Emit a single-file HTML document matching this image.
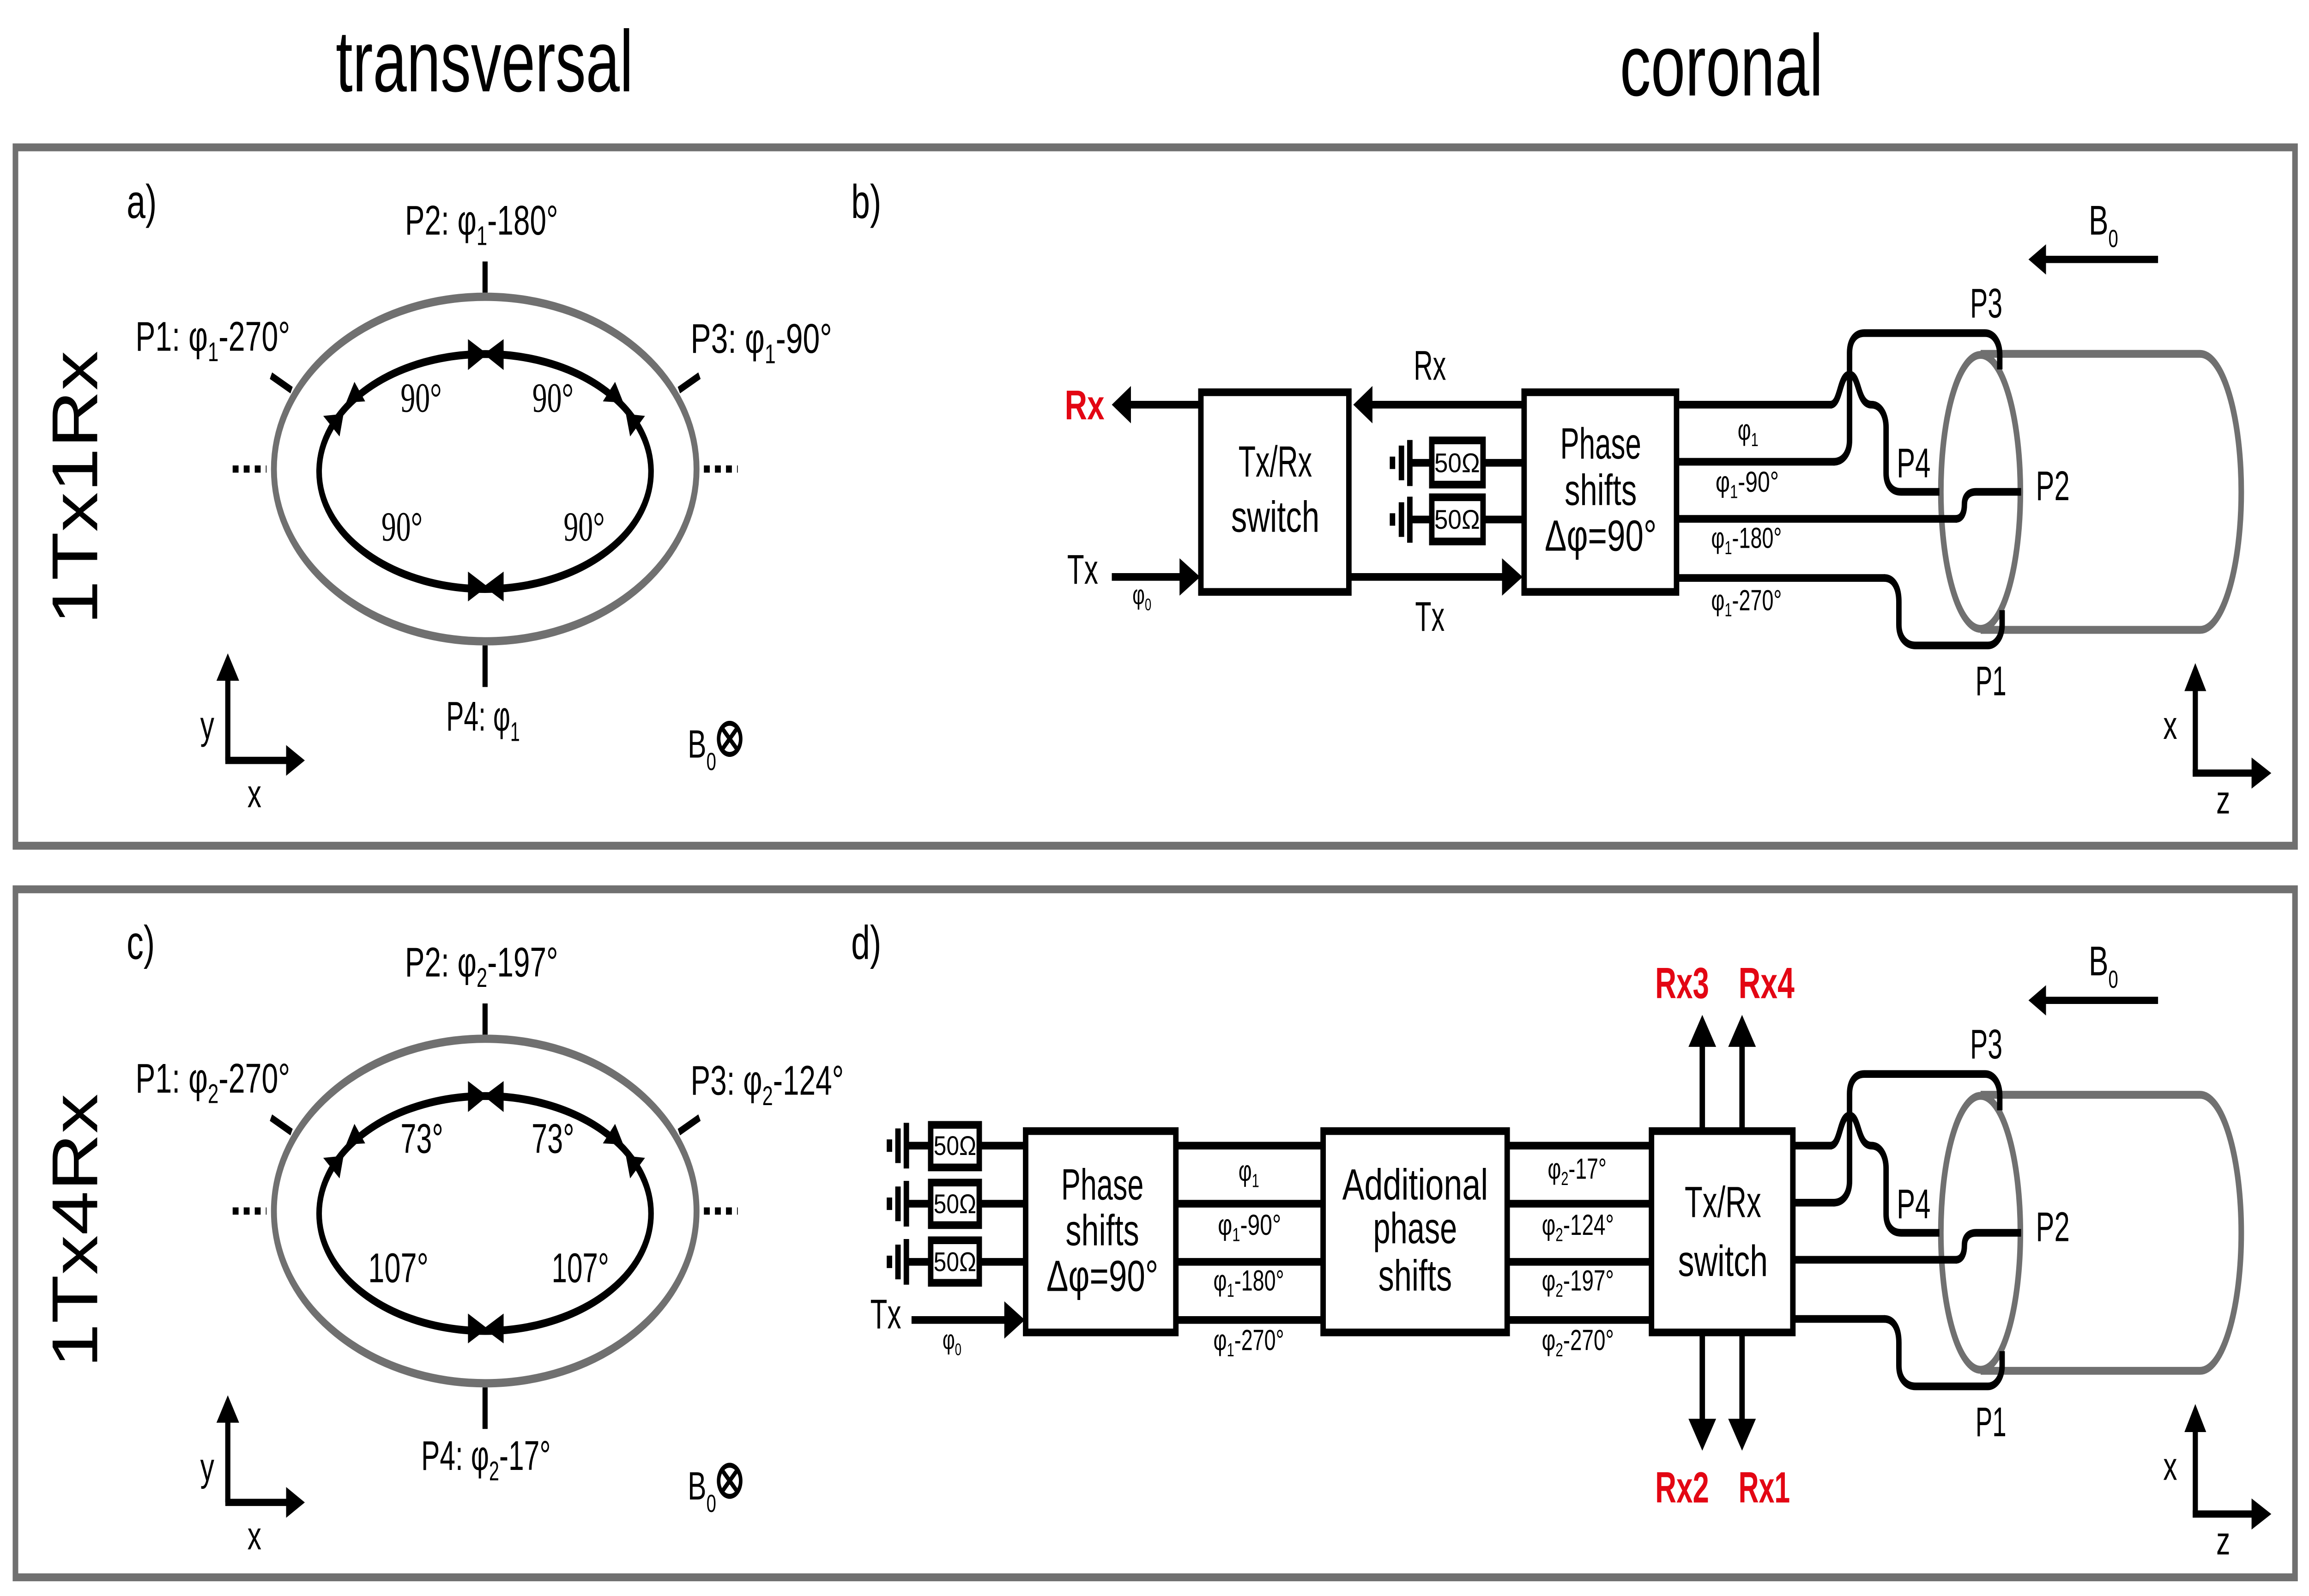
<!DOCTYPE html>
<html><head><meta charset="utf-8"><style>
html,body{margin:0;padding:0;background:#fff;width:100%;height:100%;overflow:hidden;}
svg{display:block;position:absolute;left:0;top:0;width:100vw;height:100vh;}
text{font-family:"Liberation Sans",sans-serif;fill:#000;}
.s{font-family:"Liberation Serif",serif;}
.red{fill:#e30613;font-weight:bold;}
</style></head><body>
<svg xmlns="http://www.w3.org/2000/svg" viewBox="0 0 1568 769" preserveAspectRatio="none">
<rect width="1568" height="769" fill="#fff"/>
<text x="228" y="44" font-size="42" textLength="202" lengthAdjust="spacingAndGlyphs">transversal</text>
<text x="1100" y="46" font-size="42" textLength="138" lengthAdjust="spacingAndGlyphs">coronal</text>
<rect x="10.5" y="71" width="1548" height="336.5" fill="none" stroke="#707070" stroke-width="3.8"/>
<rect x="10.5" y="428.5" width="1548" height="331.5" fill="none" stroke="#707070" stroke-width="3.8"/>
<text transform="translate(66,235) rotate(-90)" text-anchor="middle" font-size="44" textLength="132" lengthAdjust="spacingAndGlyphs">1Tx1Rx</text>
<text transform="translate(66,593) rotate(-90)" text-anchor="middle" font-size="44" textLength="132" lengthAdjust="spacingAndGlyphs">1Tx4Rx</text>

<defs>
<g id="trans">
  <ellipse cx="329.5" cy="226" rx="143.5" ry="83" fill="none" stroke="#707070" stroke-width="4"/>
  <ellipse cx="329.4" cy="227.2" rx="112.7" ry="56.6" fill="none" stroke="#000" stroke-width="3.8"/>
  <line x1="329.4" y1="126" x2="329.4" y2="141" stroke="#000" stroke-width="3.5"/>
  <line x1="329.4" y1="311" x2="329.4" y2="331" stroke="#000" stroke-width="3.5"/>
  <line x1="184" y1="181" x2="198" y2="188" stroke="#000" stroke-width="3.5"/>
  <line x1="461" y1="188" x2="475" y2="181" stroke="#000" stroke-width="3.5"/>
  <line x1="158" y1="226" x2="181" y2="226" stroke="#000" stroke-width="3.5" stroke-dasharray="4,3.5"/>
  <line x1="478" y1="226" x2="501" y2="226" stroke="#000" stroke-width="3.5" stroke-dasharray="4,3.5"/>
  <polygon points="317.8,163.4 331,170.6 317.8,178.3"/>
  <polygon points="342,163.4 328.5,170.6 342,178.3"/>
  <polygon points="317.8,275.4 331,282.6 317.8,289.8"/>
  <polygon points="342,275.4 328.5,282.6 342,289.8"/>
  <polygon points="240.7,184 235,194 248,193.4"/>
  <polygon points="219.5,200.4 230.6,210.3 233.3,199.4"/>
  <polygon points="417.7,184 409.4,193.4 423.3,194"/>
  <polygon points="438,200.4 427.9,210.3 425,199.4"/>
  <line x1="154.7" y1="366.4" x2="154.7" y2="326" stroke="#000" stroke-width="3.5"/>
  <polygon points="154.7,314.8 147,328 162.4,328"/>
  <line x1="153" y1="366.4" x2="196" y2="366.4" stroke="#000" stroke-width="3.5"/>
  <polygon points="207,366.4 194.3,359 194.3,373.8"/>
  <text x="136" y="356" font-size="19">y</text>
  <text x="168" y="389" font-size="19">x</text>
  <text x="467" y="365" font-size="19">B<tspan dy="6" font-size="12">0</tspan></text>
  <circle cx="495.5" cy="356" r="7.5" fill="none" stroke="#000" stroke-width="2.4"/>
  <line x1="490.2" y1="350.7" x2="500.8" y2="361.3" stroke="#000" stroke-width="2.4"/>
  <line x1="500.8" y1="350.7" x2="490.2" y2="361.3" stroke="#000" stroke-width="2.4"/>
</g>
</defs>
<use href="#trans"/>
<use href="#trans" transform="translate(0,357.5)"/>

<text x="86" y="105" font-size="23">a)</text>
<text x="275" y="113" font-size="20" textLength="104" lengthAdjust="spacingAndGlyphs">P2: φ<tspan dy="5" font-size="13">1</tspan><tspan dy="-5">-180°</tspan></text>
<text x="92" y="169" font-size="20" textLength="105" lengthAdjust="spacingAndGlyphs">P1: φ<tspan dy="5" font-size="13">1</tspan><tspan dy="-5">-270°</tspan></text>
<text x="469" y="170" font-size="20" textLength="96" lengthAdjust="spacingAndGlyphs">P3: φ<tspan dy="5" font-size="13">1</tspan><tspan dy="-5">-90°</tspan></text>
<text x="303" y="352" font-size="20" textLength="50" lengthAdjust="spacingAndGlyphs">P4: φ<tspan dy="5" font-size="13">1</tspan></text>
<text class="s" x="272" y="198.4" font-size="20">90°</text>
<text class="s" x="361.5" y="198.4" font-size="20">90°</text>
<text class="s" x="259" y="260.5" font-size="20">90°</text>
<text class="s" x="382.7" y="260.5" font-size="20">90°</text>

<text x="86" y="462" font-size="23">c)</text>
<text x="275" y="470.5" font-size="20" textLength="104" lengthAdjust="spacingAndGlyphs">P2: φ<tspan dy="5" font-size="13">2</tspan><tspan dy="-5">-197°</tspan></text>
<text x="92" y="526.5" font-size="20" textLength="105" lengthAdjust="spacingAndGlyphs">P1: φ<tspan dy="5" font-size="13">2</tspan><tspan dy="-5">-270°</tspan></text>
<text x="469" y="527.5" font-size="20" textLength="104" lengthAdjust="spacingAndGlyphs">P3: φ<tspan dy="5" font-size="13">2</tspan><tspan dy="-5">-124°</tspan></text>
<text x="286" y="708.3" font-size="20" textLength="88" lengthAdjust="spacingAndGlyphs">P4: φ<tspan dy="5" font-size="13">2</tspan><tspan dy="-5">-17°</tspan></text>
<text x="272" y="555.5" font-size="20" textLength="29" lengthAdjust="spacingAndGlyphs">73°</text>
<text x="361" y="555.5" font-size="20" textLength="29" lengthAdjust="spacingAndGlyphs">73°</text>
<text x="250" y="617.8" font-size="20" textLength="41" lengthAdjust="spacingAndGlyphs">107°</text>
<text x="374.6" y="617.8" font-size="20" textLength="39" lengthAdjust="spacingAndGlyphs">107°</text>

<defs>
<g id="coil">
  <ellipse cx="1345" cy="237" rx="27" ry="66" fill="none" stroke="#707070" stroke-width="3.8"/>
  <path d="M1345,170.5 H1494 A28,66.5 0 0 1 1494,303.5 H1345" fill="none" stroke="#707070" stroke-width="3.8"/>
  <g fill="none" stroke="#000" stroke-width="3.7" stroke-linejoin="round" stroke-linecap="butt">
    <path d="M1243,195 C1250,195 1249,180.5 1256,180.5 C1263,180.5 1261,195 1271,195 C1277,195 1280.8,200 1280.8,206 V228 C1280.8,233 1284,237 1291,237 H1317"/>
    <path d="M1245,222.5 C1252,222.5 1256,218 1256,212 V170 C1256,164 1260,160.5 1266,160.5 H1348 C1354,160.5 1358,165 1358,171 V178"/>
    <path d="M1328,250 C1333,250 1334,246 1334,243 C1334,239 1337,237 1342,237 H1372.5"/>
    <path d="M1279.5,278.5 C1285,278.5 1289.5,282 1289.5,290 V301 C1289.5,307 1294,311 1301,311 H1350 C1355,311 1359.6,307 1359.6,301 V294"/>
  </g>
  <text x="1337.8" y="153" font-size="20" textLength="22" lengthAdjust="spacingAndGlyphs">P3</text>
  <text x="1288" y="230" font-size="20" textLength="23" lengthAdjust="spacingAndGlyphs">P4</text>
  <text x="1382.5" y="241" font-size="20" textLength="23" lengthAdjust="spacingAndGlyphs">P2</text>
  <text x="1341.5" y="335" font-size="20" textLength="21" lengthAdjust="spacingAndGlyphs">P1</text>
  <line x1="1388" y1="125" x2="1465.5" y2="125" stroke="#000" stroke-width="3.5"/>
  <polygon points="1377.5,125 1389.4,117.7 1389.4,132.3"/>
  <text x="1418.4" y="113" font-size="20">B<tspan dy="6" font-size="12">0</tspan></text>
  <line x1="1490.8" y1="372.5" x2="1490.8" y2="330" stroke="#000" stroke-width="3.5"/>
  <polygon points="1490.8,319.5 1483.4,333 1498.2,333"/>
  <line x1="1489" y1="372.5" x2="1530" y2="372.5" stroke="#000" stroke-width="3.5"/>
  <polygon points="1542.4,372.5 1529,365 1529,380"/>
  <text x="1469" y="356" font-size="19">x</text>
  <text x="1505" y="392" font-size="19">z</text>
</g>
</defs>
<use href="#coil"/>
<use href="#coil" transform="translate(0,357)"/>

<text x="578" y="105" font-size="23">b)</text>
<g stroke="#000" stroke-width="3.7" fill="none">
  <rect x="815.5" y="189" width="100.5" height="96.2"/>
  <rect x="1035" y="189" width="103.5" height="96.2"/>
  <line x1="1138.5" y1="195" x2="1244" y2="195"/>
  <line x1="1138.5" y1="222.5" x2="1246" y2="222.5"/>
  <line x1="1138.5" y1="250" x2="1329" y2="250"/>
  <line x1="1138.5" y1="278.5" x2="1280" y2="278.5"/>
  <line x1="766" y1="195" x2="815.5" y2="195"/>
  <line x1="930" y1="195" x2="1035" y2="195"/>
  <line x1="755" y1="278" x2="802" y2="278"/>
  <line x1="916" y1="278" x2="1022" y2="278"/>
  <rect x="972.3" y="212.2" width="34.8" height="21.3"/>
  <rect x="972.3" y="239.6" width="34.8" height="21.3"/>
  <line x1="957" y1="223" x2="972.3" y2="223"/>
  <line x1="1007.1" y1="223" x2="1035" y2="223"/>
  <line x1="957" y1="250.3" x2="972.3" y2="250.3"/>
  <line x1="1007.1" y1="250.3" x2="1035" y2="250.3"/>
  <line x1="957.4" y1="212" x2="957.4" y2="234.2"/>
  <line x1="951.7" y1="214.7" x2="951.7" y2="231.4"/>
  <line x1="945.6" y1="220" x2="945.6" y2="226"/>
  <line x1="957.4" y1="239.3" x2="957.4" y2="261.5"/>
  <line x1="951.7" y1="242" x2="951.7" y2="258.7"/>
  <line x1="945.6" y1="247.3" x2="945.6" y2="253.3"/>
</g>
<polygon points="755,195 768,186 768,204"/>
<polygon points="919,195 932,186 932,204"/>
<polygon points="815,278 801,269 801,287"/>
<polygon points="1034,278 1020,269 1020,287"/>
<text x="974" y="227.5" font-size="13" textLength="31" lengthAdjust="spacingAndGlyphs">50Ω</text>
<text x="974" y="254.8" font-size="13" textLength="31" lengthAdjust="spacingAndGlyphs">50Ω</text>
<text class="red" x="723" y="202" font-size="20" textLength="27" lengthAdjust="spacingAndGlyphs">Rx</text>
<text x="960" y="183" font-size="20" textLength="22" lengthAdjust="spacingAndGlyphs">Rx</text>
<text x="961" y="304" font-size="20" textLength="20" lengthAdjust="spacingAndGlyphs">Tx</text>
<text x="724.7" y="281.3" font-size="20" textLength="21" lengthAdjust="spacingAndGlyphs">Tx</text>
<text x="769" y="291" font-size="13">φ<tspan dy="3" font-size="8">0</tspan></text>
<text x="866" y="229.6" font-size="21" text-anchor="middle" textLength="50" lengthAdjust="spacingAndGlyphs">Tx/Rx</text>
<text x="866" y="256.2" font-size="21" text-anchor="middle" textLength="60" lengthAdjust="spacingAndGlyphs">switch</text>
<text x="1087" y="221" font-size="21" text-anchor="middle" textLength="55" lengthAdjust="spacingAndGlyphs">Phase</text>
<text x="1087" y="243.3" font-size="21" text-anchor="middle" textLength="49" lengthAdjust="spacingAndGlyphs">shifts</text>
<text x="1087" y="265.3" font-size="21" text-anchor="middle" textLength="76" lengthAdjust="spacingAndGlyphs">Δφ=90°</text>
<text x="1180" y="212" font-size="14">φ<tspan dy="3" font-size="9">1</tspan></text>
<text x="1165" y="237" font-size="14" textLength="43" lengthAdjust="spacingAndGlyphs">φ<tspan dy="3" font-size="9">1</tspan><tspan dy="-3">-90°</tspan></text>
<text x="1162" y="264" font-size="14" textLength="48" lengthAdjust="spacingAndGlyphs">φ<tspan dy="3" font-size="9">1</tspan><tspan dy="-3">-180°</tspan></text>
<text x="1162" y="294" font-size="14" textLength="48" lengthAdjust="spacingAndGlyphs">φ<tspan dy="3" font-size="9">1</tspan><tspan dy="-3">-270°</tspan></text>

<text x="578" y="462" font-size="23">d)</text>
<g stroke="#000" stroke-width="3.7" fill="none">
  <rect x="696.5" y="545" width="102" height="97"/>
  <rect x="898.5" y="545" width="125" height="97"/>
  <rect x="1121.5" y="545" width="96" height="97"/>
  <line x1="798.5" y1="552" x2="898.5" y2="552"/>
  <line x1="798.5" y1="580" x2="898.5" y2="580"/>
  <line x1="798.5" y1="608" x2="898.5" y2="608"/>
  <line x1="798.5" y1="636" x2="898.5" y2="636"/>
  <line x1="1023.5" y1="552" x2="1121.5" y2="552"/>
  <line x1="1023.5" y1="580" x2="1121.5" y2="580"/>
  <line x1="1023.5" y1="608" x2="1121.5" y2="608"/>
  <line x1="1023.5" y1="636" x2="1121.5" y2="636"/>
  <line x1="1217.5" y1="552" x2="1244" y2="552"/>
  <line x1="1217.5" y1="579.5" x2="1246" y2="579.5"/>
  <line x1="1217.5" y1="607" x2="1329" y2="607"/>
  <line x1="1217.5" y1="635.5" x2="1280" y2="635.5"/>
  <line x1="619" y1="636" x2="683" y2="636"/>
  <line x1="1156" y1="545" x2="1156" y2="502"/>
  <line x1="1183" y1="545" x2="1183" y2="502"/>
  <line x1="1156" y1="642" x2="1156" y2="686"/>
  <line x1="1183" y1="642" x2="1183" y2="686"/>
  <rect x="632" y="542" width="33" height="20.5"/>
  <rect x="632" y="569.8" width="33" height="20.5"/>
  <rect x="632" y="597.6" width="33" height="20.5"/>
  <line x1="615" y1="552" x2="632" y2="552"/><line x1="665" y1="552" x2="696.5" y2="552"/>
  <line x1="615" y1="580" x2="632" y2="580"/><line x1="665" y1="580" x2="696.5" y2="580"/>
  <line x1="615" y1="608" x2="632" y2="608"/><line x1="665" y1="608" x2="696.5" y2="608"/>
  <line x1="615.5" y1="541" x2="615.5" y2="563"/><line x1="609.8" y1="543.7" x2="609.8" y2="560.4"/><line x1="604" y1="549" x2="604" y2="555"/>
  <line x1="615.5" y1="569" x2="615.5" y2="591"/><line x1="609.8" y1="571.7" x2="609.8" y2="588.4"/><line x1="604" y1="577" x2="604" y2="583"/>
  <line x1="615.5" y1="597" x2="615.5" y2="619"/><line x1="609.8" y1="599.7" x2="609.8" y2="616.4"/><line x1="604" y1="605" x2="604" y2="611"/>
</g>
<polygon points="696,636 682,627 682,645"/>
<polygon points="1156,489 1146.6,504.4 1165.4,504.4"/>
<polygon points="1183,489 1173.6,504.4 1192.4,504.4"/>
<polygon points="1156,699 1146.6,683.6 1165.4,683.6"/>
<polygon points="1183,699 1173.6,683.6 1192.4,683.6"/>
<text x="634" y="556.5" font-size="13" textLength="29" lengthAdjust="spacingAndGlyphs">50Ω</text>
<text x="634" y="584.5" font-size="13" textLength="29" lengthAdjust="spacingAndGlyphs">50Ω</text>
<text x="634" y="612.5" font-size="13" textLength="29" lengthAdjust="spacingAndGlyphs">50Ω</text>
<text x="591" y="640" font-size="20" textLength="21" lengthAdjust="spacingAndGlyphs">Tx</text>
<text x="640" y="650" font-size="13">φ<tspan dy="3" font-size="8">0</tspan></text>
<text x="748.6" y="578" font-size="21" text-anchor="middle" textLength="56" lengthAdjust="spacingAndGlyphs">Phase</text>
<text x="748.6" y="600" font-size="21" text-anchor="middle" textLength="50" lengthAdjust="spacingAndGlyphs">shifts</text>
<text x="748.6" y="622" font-size="21" text-anchor="middle" textLength="76" lengthAdjust="spacingAndGlyphs">Δφ=90°</text>
<text x="961" y="578" font-size="21" text-anchor="middle" textLength="99" lengthAdjust="spacingAndGlyphs">Additional</text>
<text x="961" y="599" font-size="21" text-anchor="middle" textLength="57" lengthAdjust="spacingAndGlyphs">phase</text>
<text x="961" y="621.8" font-size="21" text-anchor="middle" textLength="50" lengthAdjust="spacingAndGlyphs">shifts</text>
<text x="1170" y="586.4" font-size="21" text-anchor="middle" textLength="52" lengthAdjust="spacingAndGlyphs">Tx/Rx</text>
<text x="1170" y="614.8" font-size="21" text-anchor="middle" textLength="61" lengthAdjust="spacingAndGlyphs">switch</text>
<text x="841" y="569" font-size="14">φ<tspan dy="3" font-size="9">1</tspan></text>
<text x="827" y="595" font-size="14" textLength="43" lengthAdjust="spacingAndGlyphs">φ<tspan dy="3" font-size="9">1</tspan><tspan dy="-3">-90°</tspan></text>
<text x="824" y="621.8" font-size="14" textLength="48" lengthAdjust="spacingAndGlyphs">φ<tspan dy="3" font-size="9">1</tspan><tspan dy="-3">-180°</tspan></text>
<text x="824" y="650.5" font-size="14" textLength="48" lengthAdjust="spacingAndGlyphs">φ<tspan dy="3" font-size="9">1</tspan><tspan dy="-3">-270°</tspan></text>
<text x="1051" y="568" font-size="14" textLength="40" lengthAdjust="spacingAndGlyphs">φ<tspan dy="3" font-size="9">2</tspan><tspan dy="-3">-17°</tspan></text>
<text x="1047" y="595" font-size="14" textLength="49" lengthAdjust="spacingAndGlyphs">φ<tspan dy="3" font-size="9">2</tspan><tspan dy="-3">-124°</tspan></text>
<text x="1047" y="621.8" font-size="14" textLength="49" lengthAdjust="spacingAndGlyphs">φ<tspan dy="3" font-size="9">2</tspan><tspan dy="-3">-197°</tspan></text>
<text x="1047" y="650.5" font-size="14" textLength="49" lengthAdjust="spacingAndGlyphs">φ<tspan dy="3" font-size="9">2</tspan><tspan dy="-3">-270°</tspan></text>
<text class="red" x="1124" y="481" font-size="21" textLength="36.6" lengthAdjust="spacingAndGlyphs">Rx3</text>
<text class="red" x="1180.6" y="481" font-size="21" textLength="38" lengthAdjust="spacingAndGlyphs">Rx4</text>
<text class="red" x="1124" y="724" font-size="21" textLength="36.6" lengthAdjust="spacingAndGlyphs">Rx2</text>
<text class="red" x="1180.6" y="724" font-size="21" textLength="35" lengthAdjust="spacingAndGlyphs">Rx1</text>
</svg>
</body></html>
